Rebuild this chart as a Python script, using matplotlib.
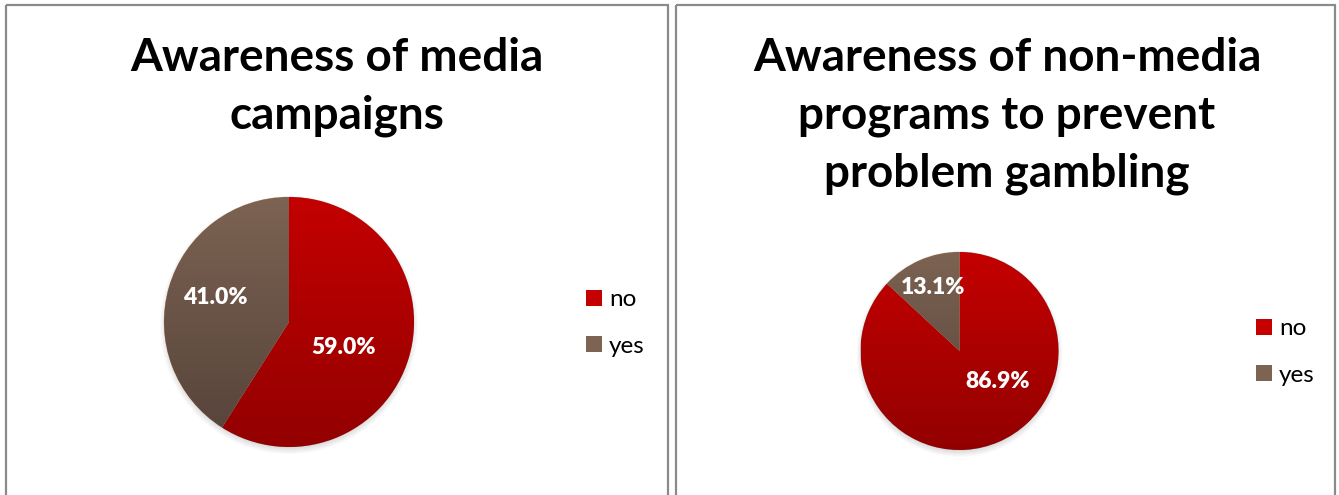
import matplotlib.pyplot as plt
import numpy as np
from matplotlib.colors import LinearSegmentedColormap
from matplotlib.patches import Rectangle, Circle

W, H = 1339, 495

categories = ['no', 'yes']
media_values = [59.0, 41.0]
nonmedia_values = [86.9, 13.1]
titles = ['Awareness of media\ncampaigns',
          'Awareness of non-media\nprograms to prevent\nproblem gambling']

# top / bottom colours of each slice gradient
red_grad = ('#c40000', '#930000')
brown_grad = ('#7c6352', '#55423a')

plt.rcParams['font.family'] = ['Lato', 'DejaVu Sans']

fig = plt.figure(figsize=(W / 100, H / 100), dpi=100)


def px_axes(cx, cy, r):
    # axes square around a pie centre given in pixels (y from top)
    return fig.add_axes([(cx - r) / W, 1 - (cy + r) / H, 2 * r / W, 2 * r / H])


def draw_pie(cx, cy, r, values, label_pos):
    ax = px_axes(cx, cy, r)
    wedges, _, autotexts = ax.pie(values, startangle=90, counterclock=False,
                                  radius=1, autopct='%.1f%%',
                                  wedgeprops=dict(edgecolor='#d8c8c0', linewidth=0.4))
    grad = np.linspace(0, 1, 256).reshape(-1, 1)
    for w, (c0, c1) in zip(wedges, [red_grad, brown_grad]):
        cmap = LinearSegmentedColormap.from_list('g', [c0, c1])
        im = ax.imshow(grad, cmap=cmap, extent=(-1, 1, -1, 1), origin='upper',
                       aspect='auto', zorder=w.get_zorder() + 0.1)
        im.set_clip_path(w)
    for t, p in zip(autotexts, label_pos):
        t.set_position(p)
        t.set_zorder(5)
        t.set_color('white')
        t.set_fontsize(16.5)
        t.set_fontweight('heavy')
    ax.set_xlim(-1, 1)
    ax.set_ylim(-1, 1)
    ax.set_aspect('equal')
    ax.axis('off')
    return ax, wedges


def shadow(cx, cy, r):
    ax = fig.add_axes([0, 0, 1, 1], zorder=-1)
    ax.set_xlim(0, W)
    ax.set_ylim(H, 0)
    ax.axis('off')
    for k in range(8):
        ax.add_patch(Circle((cx, cy + 3), r + 4 - k, color='black', alpha=0.02, lw=0))


shadow(289, 322, 125)
shadow(959.5, 351, 99)

ax1, w1 = draw_pie(289, 322, 125, media_values, [(0.44, -0.2), (-0.59, 0.2)])
ax2, w2 = draw_pie(959.5, 351, 99, nonmedia_values, [(0.39, -0.31), (-0.27, 0.64)])

# panel frames
frame = fig.add_axes([0, 0, 1, 1], zorder=-2)
frame.set_xlim(0, W)
frame.set_ylim(H, 0)
frame.axis('off')
for x0, x1 in [(6, 668), (676, 1335)]:
    frame.add_patch(Rectangle((x0, 5), x1 - x0, H + 20, fill=False,
                              edgecolor='#8a8a8a', linewidth=1.6))

fig.text(337 / W, 1 - 87 / H, titles[0], ha='center', va='center',
         fontsize=33, fontweight='bold', linespacing=1.45)
fig.text(1007 / W, 1 - 116 / H, titles[1], ha='center', va='center',
         fontsize=33, fontweight='bold', linespacing=1.45)

for ax, w, x, y in [(ax1, w1, 574, 323), (ax2, w2, 1244, 352)]:
    leg = ax.legend(w, categories, loc='center left', bbox_to_anchor=(x / W, 1 - y / H),
                    bbox_transform=fig.transFigure, frameon=False, fontsize=17.5,
                    handlelength=0.65, handleheight=0.65, handletextpad=0.3,
                    labelspacing=1.05, borderpad=0)
    for h, c in zip(leg.legend_handles, [red_grad, brown_grad]):
        h.set_facecolor(c[0])
        h.set_edgecolor('none')

fig.savefig('out.png', dpi=100)
